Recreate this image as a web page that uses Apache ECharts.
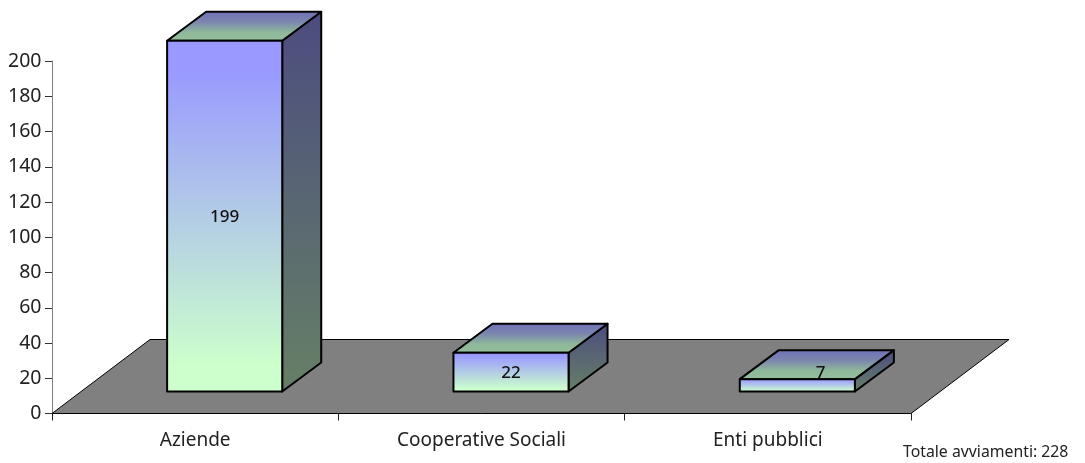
<!DOCTYPE html>
<html>
<head>
<meta charset="utf-8">
<style>html,body{margin:0;padding:0;background:#fff}#c{width:1085px;height:463px}</style>
<script src="https://cdn.jsdelivr.net/npm/echarts@6/dist/echarts.min.js"></script>
</head>
<body>
<div id="c"></div>
<script>
const categories = ['Aziende', 'Cooperative Sociali', 'Enti pubblici'];
const values = [199, 22, 7];
const yTicks = {min: 0, max: 200, interval: 20};
const totalNote = 'Totale avviamenti: 228';

const FONT = '"Noto Sans", sans-serif';
const floorDepth = [98, -74];
const barDepth = [39, -29];
const barLift = [29.5, -22];
const barWidthRatio = 0.402;

function grad(stops) {
  return new echarts.graphic.LinearGradient(0, 0, 0, 1, stops.map((c) => ({offset: c[0], color: c[1]})));
}

function renderFloor(params, api) {
  const g = params.coordSys;
  const bx = g.x, by = g.y + g.height, r = g.x + g.width;
  return {
    type: 'polygon',
    shape: {points: [[bx, by], [bx + floorDepth[0], by + floorDepth[1]], [r + floorDepth[0], by + floorDepth[1]], [r, by]]},
    style: {fill: '#808080', stroke: '#000', lineWidth: 1}
  };
}

function renderBar(params, api) {
  const base = api.coord([api.value(0), 0]);
  const top = api.coord([api.value(0), api.value(1)]);
  const w = api.size([1, 0])[0] * barWidthRatio;
  const x0 = base[0] + barLift[0] - w / 2, x1 = x0 + w;
  const yb = base[1] + barLift[1], yt = top[1] + barLift[1];
  const dx = barDepth[0], dy = barDepth[1];
  const border = {stroke: '#000', lineWidth: 2, lineJoin: 'round'};
  const lowBar = yb - yt < 20;
  return {
    type: 'group',
    children: [
      {type: 'polygon', shape: {points: [[x1, yb], [x1 + dx, yb + dy], [x1 + dx, yt + dy], [x1, yt]]},
        style: Object.assign({fill: grad([[0, '#4c4c7f'], [1, '#668066']])}, border)},
      {type: 'polygon', shape: {points: [[x0, yt], [x0 + dx, yt + dy], [x1 + dx, yt + dy], [x1, yt]]},
        style: Object.assign({fill: grad([[0, '#6f6fb8'], [0.35, '#7b85ae'], [0.7, '#8fb89b'], [1, '#95bf9a']])}, border)},
      {type: 'rect', shape: {x: x0, y: yt, width: w, height: yb - yt},
        style: Object.assign({fill: grad([[0, '#9999ff'], [0.08, '#9999ff'], [0.92, '#ccffcc'], [1, '#ccffcc']])}, border)},
      {type: 'text', x: (x0 + x1) / 2 + (lowBar ? dx * 0.6 : 0), y: (yt + yb) / 2 + (lowBar ? dy * 0.5 + 2 : 1),
        style: {text: String(api.value(1)), fill: '#111', font: '500 17px ' + FONT, align: 'center', verticalAlign: 'middle'}}
    ]
  };
}

const chart = echarts.init(document.getElementById('c'), null, {renderer: 'canvas'});
chart.setOption({
  animation: false,
  backgroundColor: '#fff',
  title: {text: totalNote, left: 903, top: 444, padding: 0,
    textStyle: {fontFamily: FONT, fontSize: 15.8, fontWeight: 'normal', color: '#222'}},
  grid: {left: 52, top: 61, width: 859, height: 352.5, containLabel: false},
  xAxis: {
    type: 'category', data: categories,
    axisLine: {lineStyle: {color: '#222', width: 1}},
    axisTick: {show: true, length: 7, alignWithLabel: false, lineStyle: {color: '#222'}},
    axisLabel: {color: '#222', fontFamily: FONT, fontSize: 19, margin: 18, interval: 0},
    splitLine: {show: false}
  },
  yAxis: {
    type: 'value', min: yTicks.min, max: yTicks.max, interval: yTicks.interval,
    axisLine: {show: true, lineStyle: {color: '#808080', width: 1}},
    axisTick: {show: true, length: 7, lineStyle: {color: '#333'}},
    axisLabel: {color: '#222', fontFamily: FONT, fontSize: 19.5, margin: 10.5},
    splitLine: {show: false}
  },
  series: [
    {type: 'custom', coordinateSystem: 'cartesian2d', data: [[0, 0]], renderItem: renderFloor, z: 1, silent: true, clip: false},
    {type: 'custom', coordinateSystem: 'cartesian2d', data: values.map((v, i) => [i, v]), renderItem: renderBar, z: 3, silent: true, clip: false,
      encode: {x: 0, y: 1}}
  ]
});
</script>
</body>
</html>
